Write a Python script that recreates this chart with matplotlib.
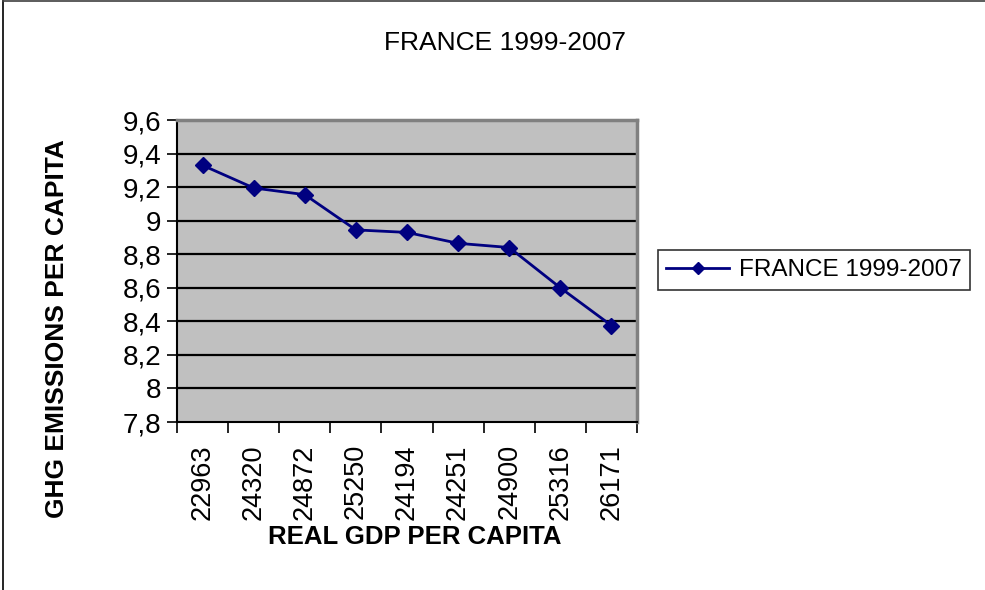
import matplotlib
matplotlib.use("Agg")
import matplotlib.pyplot as plt
from matplotlib.lines import Line2D
import numpy as np

plt.rcParams['font.family'] = ['Liberation Sans', 'DejaVu Sans']

categories = ["22963", "24320", "24872", "25250", "24194", "24251", "24900", "25316", "26171"]
values = [9.33, 9.195, 9.155, 8.945, 8.93, 8.865, 8.84, 8.60, 8.375]
series_name = "FRANCE 1999-2007"
yticks = [7.8, 8.0, 8.2, 8.4, 8.6, 8.8, 9.0, 9.2, 9.4, 9.6]
ytick_labels = ["7,8", "8", "8,2", "8,4", "8,6", "8,8", "9", "9,2", "9,4", "9,6"]

fig = plt.figure(figsize=(9.85, 5.9), dpi=100)
ax = fig.add_axes([177/985, 1-422/590, (637-177)/985, (422-120)/590])
ax.set_facecolor("#C0C0C0")

x = np.arange(len(categories))
line, = ax.plot(x, values, color="#000080", lw=2, marker="D", markersize=8,
                markerfacecolor="#000080", markeredgecolor="#000080", zorder=3)

ax.set_xlim(-0.5, len(categories) - 0.5)
ax.set_ylim(7.8, 9.6)
ax.set_yticks(yticks)
ax.set_yticklabels(ytick_labels, fontsize=20)
for yv in yticks[1:-1]:
    ax.axhline(yv, color="black", lw=1.6, zorder=1)

ax.set_xticks(x)
ax.set_xticklabels(categories, rotation=90, fontsize=19.5)
ax.set_xticks(np.arange(-0.5, len(categories), 1.0), minor=True)
ax.tick_params(axis="x", which="major", length=0, pad=16)
ax.tick_params(axis="x", which="minor", length=8, width=1.2, direction="out")
ax.tick_params(axis="y", length=7, width=1.2, direction="out", pad=4)

for s in ["left", "bottom"]:
    ax.spines[s].set_color("black")
    ax.spines[s].set_linewidth(1.5)
ax.spines["top"].set_color("#808080")
ax.spines["top"].set_linewidth(2.5)
ax.spines["right"].set_color("#808080")
ax.spines["right"].set_linewidth(2.5)

fig.text(505/985, 1-43/590, series_name, ha="center", va="center", fontsize=19)
fig.text(57/985, 1-329/590, "GHG EMISSIONS PER CAPITA", rotation=90, ha="center",
         va="center", fontsize=19, fontweight="bold")
fig.text(415/985, 1-537/590, "REAL GDP PER CAPITA", ha="center", va="center",
         fontsize=18.5, fontweight="bold")

leg = fig.legend([line], [series_name], loc="center", bbox_to_anchor=(814/985, 1-270/590),
                 fontsize=17.5, frameon=True, fancybox=False, edgecolor="black",
                 handlelength=2.6, handletextpad=0.4, borderpad=0.35, markerscale=0.8)
leg.get_frame().set_linewidth(1.2)

# outer chart border (top and left visible)
fig.add_artist(Line2D([3/985, 3/985], [0, 1-1/590], color="black", lw=1.2, transform=fig.transFigure))
fig.add_artist(Line2D([3/985, 1], [1-1/590, 1-1/590], color="#404040", lw=1.2, transform=fig.transFigure))

fig.savefig("out.png", dpi=100)
